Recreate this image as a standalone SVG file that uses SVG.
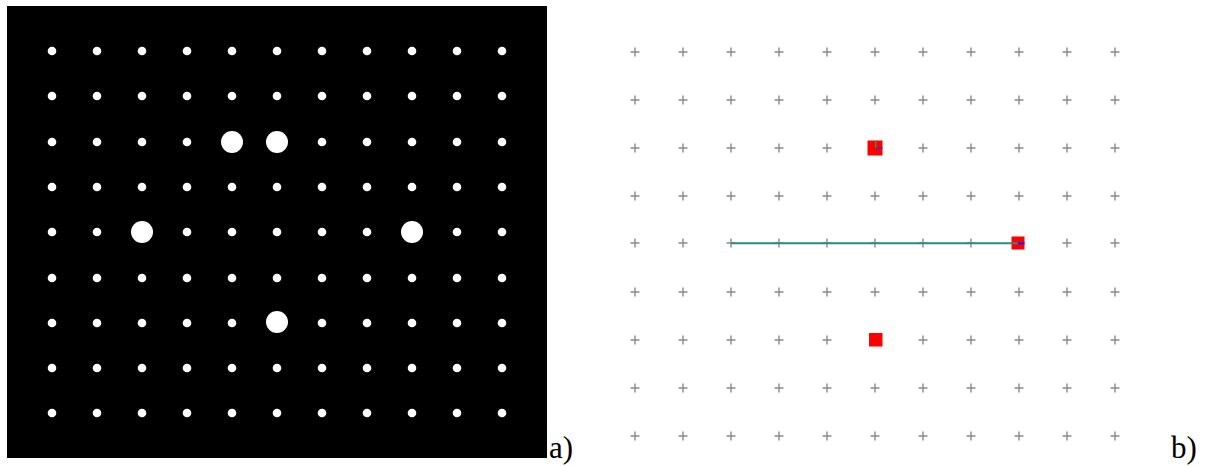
<svg xmlns="http://www.w3.org/2000/svg" xmlns:xlink="http://www.w3.org/1999/xlink" width="1208" height="466" viewBox="0 0 1208 466">
<style>
.d{fill:#fff}
.p{stroke:#8a8a8a;stroke-width:1.4;fill:none}
.lbl{font-family:"Liberation Serif",serif;font-size:31px;fill:#000}
.sq{fill:#ff0000}
</style>
<defs>
<g id="dotrow">
<circle class="d" cx="52" cy="0" r="4.3"/><circle class="d" cx="97" cy="0" r="4.3"/><circle class="d" cx="142" cy="0" r="4.3"/><circle class="d" cx="187" cy="0" r="4.3"/><circle class="d" cx="232" cy="0" r="4.3"/><circle class="d" cx="277" cy="0" r="4.3"/><circle class="d" cx="322" cy="0" r="4.3"/><circle class="d" cx="367" cy="0" r="4.3"/><circle class="d" cx="412" cy="0" r="4.3"/><circle class="d" cx="457" cy="0" r="4.3"/><circle class="d" cx="502" cy="0" r="4.3"/>
</g>
<path id="plus" class="p" d="M-4.5,0H4.5M0,-4.5V4.5"/>
<g id="plusrow">
<use xlink:href="#plus" x="635"/><use xlink:href="#plus" x="683"/><use xlink:href="#plus" x="731"/><use xlink:href="#plus" x="779"/><use xlink:href="#plus" x="827"/><use xlink:href="#plus" x="875"/><use xlink:href="#plus" x="923"/><use xlink:href="#plus" x="971"/><use xlink:href="#plus" x="1019"/><use xlink:href="#plus" x="1067"/><use xlink:href="#plus" x="1115"/>
</g>
</defs>
<rect width="1208" height="466" fill="#fff"/>
<g id="panel-a">
<rect x="7" y="6" width="540" height="452" fill="#000"/>
<use xlink:href="#dotrow" y="51"/>
<use xlink:href="#dotrow" y="96"/>
<use xlink:href="#dotrow" y="142"/>
<use xlink:href="#dotrow" y="187"/>
<use xlink:href="#dotrow" y="232"/>
<use xlink:href="#dotrow" y="278"/>
<use xlink:href="#dotrow" y="323"/>
<use xlink:href="#dotrow" y="368"/>
<use xlink:href="#dotrow" y="413"/>
<circle class="d" cx="232" cy="142" r="11"/>
<circle class="d" cx="277" cy="142" r="11"/>
<circle class="d" cx="142" cy="232" r="11"/>
<circle class="d" cx="412" cy="232" r="11"/>
<circle class="d" cx="277" cy="322" r="11"/>
</g>
<text class="lbl" x="549" y="458">a)</text>
<g id="panel-b">
<use xlink:href="#plusrow" y="52"/>
<use xlink:href="#plusrow" y="100"/>
<use xlink:href="#plusrow" y="148"/>
<use xlink:href="#plusrow" y="196"/>
<use xlink:href="#plusrow" y="243"/>
<use xlink:href="#plusrow" y="292"/>
<use xlink:href="#plusrow" y="340"/>
<use xlink:href="#plusrow" y="388"/>
<use xlink:href="#plusrow" y="436"/>
</g>
<g id="connectors">
<line x1="731" y1="243.3" x2="1016" y2="243.3" stroke="#2f8a87" stroke-width="2"/>
</g>
<g id="node1">
<rect class="sq" x="867.5" y="140.5" width="15" height="15"/>
<line x1="875.7" y1="140.5" x2="875.7" y2="148" stroke="#2e9a3a" stroke-width="1.5"/>
<line x1="875.7" y1="148" x2="882.5" y2="148" stroke="#3a2fd0" stroke-width="1.5"/>
</g>
<g id="node2">
<rect class="sq" x="1011.5" y="236.5" width="13" height="13"/>
<line x1="1011.5" y1="243.3" x2="1018" y2="243.3" stroke="#2f8a87" stroke-width="2"/>
<line x1="1018" y1="243.3" x2="1024.5" y2="243.3" stroke="#1a1aff" stroke-width="2"/>
</g>
<g id="node3">
<rect class="sq" x="869" y="333" width="13.5" height="13.5"/>
</g>
<text class="lbl" x="1171" y="458">b)</text>
</svg>
